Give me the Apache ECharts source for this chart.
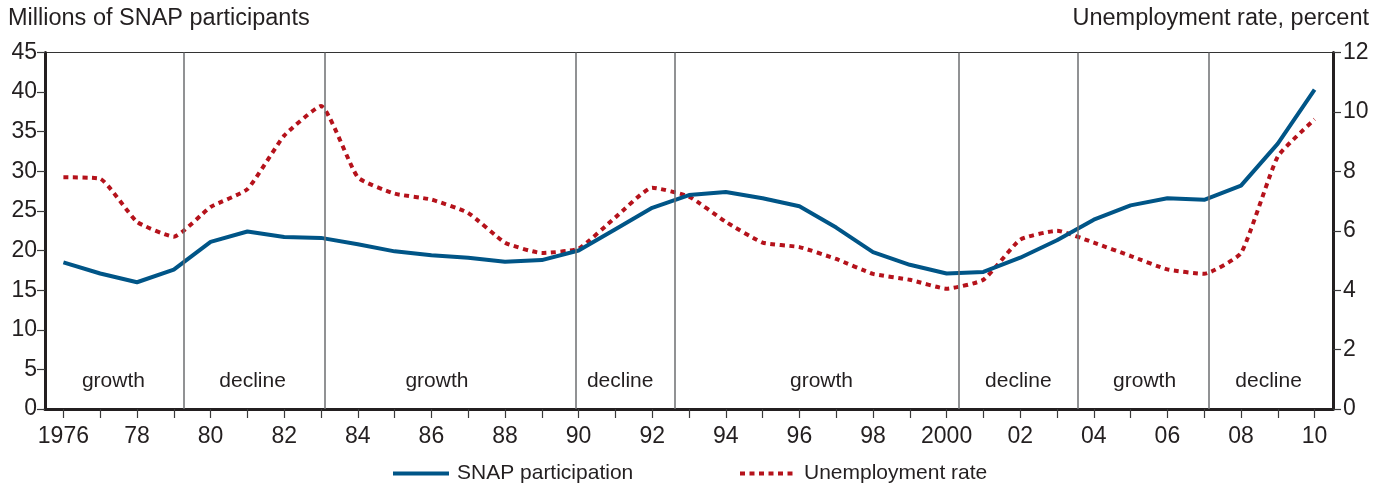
<!DOCTYPE html>
<html>
<head>
<meta charset="utf-8">
<script src="https://cdn.jsdelivr.net/npm/echarts@6/dist/echarts.min.js"></script>
<style>
html,body{margin:0;padding:0;background:#fff;}
#chart{width:1388px;height:484px;}
</style>
</head>
<body>
<div id="chart"></div>
<script>
const years = [1976,1977,1978,1979,1980,1981,1982,1983,1984,1985,1986,1987,1988,1989,1990,1991,1992,1993,1994,1995,1996,1997,1998,1999,2000,2001,2002,2003,2004,2005,2006,2007,2008,2009,2010];
const snap = [18.5,17.1,16.0,17.6,21.1,22.4,21.7,21.6,20.8,19.9,19.4,19.1,18.6,18.8,20.0,22.7,25.4,27.0,27.4,26.6,25.6,22.9,19.8,18.2,17.1,17.3,19.1,21.3,23.9,25.7,26.6,26.4,28.2,33.5,40.3];
const unemp = [7.8,7.75,6.3,5.8,6.8,7.4,9.2,10.2,7.8,7.25,7.05,6.6,5.6,5.25,5.4,6.45,7.45,7.15,6.3,5.6,5.45,5.05,4.55,4.35,4.05,4.35,5.7,6.0,5.6,5.15,4.7,4.55,5.25,8.5,9.75];
const boundaries = [1979.26,1983.1,1989.93,1992.62,2000.32,2003.56,2007.12];
const periodNames = ['growth','decline','growth','decline','growth','decline','growth','decline'];
const periodX = [1977.36,1981.14,1986.15,1991.13,1996.6,2001.95,2005.38,2008.75];
const periodY = 3.5;
const leftTicks = {min:0,max:45,interval:5};
const rightTicks = {min:0,max:12,interval:2};

const FONT = 'Liberation Sans, Arial, Helvetica, sans-serif';
const TXT = '#231f20';

const chart = echarts.init(document.getElementById('chart'), null, {renderer:'canvas'});
chart.setOption({
  animation:false,
  textStyle:{fontFamily:FONT},
  title:[
    {text:'Millions of SNAP participants', left:3, top:2, textStyle:{fontSize:23.5, fontWeight:'normal', color:TXT, fontFamily:FONT}},
    {text:'Unemployment rate, percent', right:14, top:2, textStyle:{fontSize:23.5, fontWeight:'normal', color:TXT, fontFamily:FONT}}
  ],
  legend:[
    {data:['SNAP participation'], left:386, top:458, itemWidth:56, itemHeight:14, itemGap:10,
     itemStyle:{opacity:0}, lineStyle:{width:4},
     textStyle:{fontSize:21, color:TXT, fontFamily:FONT, padding:[0,0,0,3]}},
    {data:['Unemployment rate'], left:733, top:458, itemWidth:56, itemHeight:14, itemGap:10,
     itemStyle:{opacity:0}, lineStyle:{width:4},
     textStyle:{fontSize:21, color:TXT, fontFamily:FONT, padding:[0,0,0,3]}}
  ],
  grid:{left:45, right:55, top:52.5, bottom:75, show:true, borderColor:'#333', borderWidth:1},
  xAxis:[
    {type:'value', min:1975.5, max:2010.5, show:false},
    {type:'category', data:years, position:'bottom', boundaryGap:true,
     axisLine:{show:true, lineStyle:{color:'#231f20', width:3}},
     axisTick:{show:true, alignWithLabel:true, interval:0, length:9, lineStyle:{color:'#3a3a3a', width:1.2}},
     axisLabel:{interval:1, fontSize:23, color:TXT, margin:16, fontFamily:FONT,
       formatter:function(v){ v = String(v); return (v==='1976'||v==='2000') ? v : v.slice(2); }},
     splitLine:{show:false}}
  ],
  yAxis:[
    {type:'value', min:leftTicks.min, max:leftTicks.max, interval:leftTicks.interval, position:'left',
     axisLine:{show:true, lineStyle:{color:'#231f20', width:3}},
     axisTick:{show:true, length:8, lineStyle:{color:'#3a3a3a', width:1.2}},
     axisLabel:{fontSize:23, color:TXT, margin:8, fontFamily:FONT},
     splitLine:{show:false}},
    {type:'value', min:rightTicks.min, max:rightTicks.max, interval:rightTicks.interval, position:'right',
     axisLine:{show:true, lineStyle:{color:'#231f20', width:3}},
     axisTick:{show:true, length:8, lineStyle:{color:'#3a3a3a', width:1.2}},
     axisLabel:{fontSize:23, color:TXT, margin:10, fontFamily:FONT},
     splitLine:{show:false}}
  ],
  series:[
    {name:'periods', type:'scatter', xAxisIndex:0, yAxisIndex:0, symbolSize:0, silent:true,
     itemStyle:{opacity:1},
     data:periodX.map((x,i)=>({value:[x,periodY], name:periodNames[i]})),
     label:{show:true, position:'inside', formatter:'{b}', fontSize:21, color:TXT, opacity:1, fontFamily:FONT},
     markLine:{silent:true, symbol:'none', label:{show:false},
       lineStyle:{color:'#6d6e71', width:1.5, type:'solid', opacity:1},
       data:boundaries.map(b=>({xAxis:b}))},
     z:1},
    {name:'SNAP participation', type:'line', xAxisIndex:0, yAxisIndex:0, symbol:'none',
     data:years.map((y,i)=>[y,snap[i]]),
     lineStyle:{color:'#005587', width:4}, itemStyle:{color:'#005587'}, z:3},
    {name:'Unemployment rate', type:'line', xAxisIndex:0, yAxisIndex:1, symbol:'none', smooth:0.15,
     data:years.map((y,i)=>[y,unemp[i]]),
     lineStyle:{color:'#b5121b', width:4, type:[5,4.5]}, itemStyle:{color:'#b5121b'}, z:2}
  ]
});
</script>
</body>
</html>
